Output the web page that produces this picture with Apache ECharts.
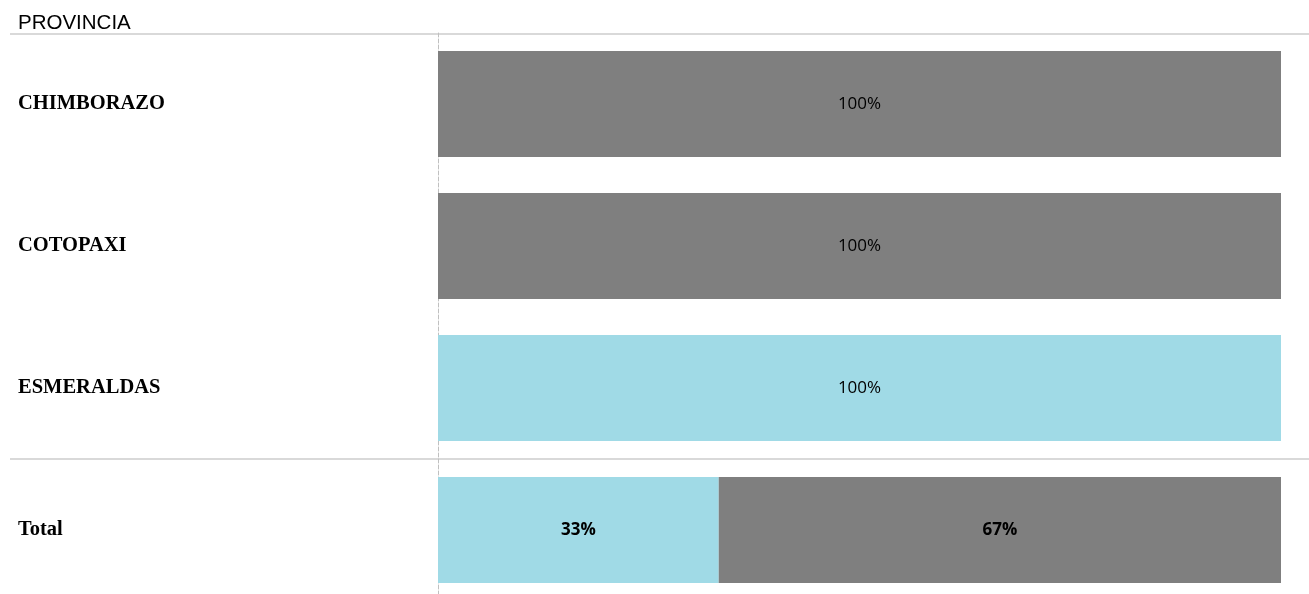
<!DOCTYPE html>
<html>
<head>
<meta charset="utf-8">
<script src="https://cdn.jsdelivr.net/npm/echarts@6/dist/echarts.min.js"></script>
<style>html,body{margin:0;padding:0;background:#fff}#c{width:1309px;height:594px}</style>
</head>
<body>
<div id="c"></div>
<script>
var categories = ['CHIMBORAZO', 'COTOPAXI', 'ESMERALDAS', 'Total'];
var seriesCyan = [0, 0, 1, 0.333];
var seriesGray = [1, 1, 0, 0.667];
var headerLabel = 'PROVINCIA';
var totalCategory = 'Total';

var chart = echarts.init(document.getElementById('c'));

function buildData(vals) {
  return vals.map(function (v, i) {
    var d = { value: v };
    if (categories[i] === totalCategory) {
      d.label = { fontWeight: 'bold' };
    }
    return d;
  });
}

var labelCfg = {
  show: true,
  position: 'inside',
  color: '#000',
  fontFamily: 'Open Sans',
  fontSize: 17,
  formatter: function (p) {
    return p.value > 0 ? Math.round(p.value * 100) + '%' : '';
  }
};

chart.setOption({
  animation: false,
  grid: { left: 438, right: 28, top: 33, height: 568, containLabel: false, outerBoundsMode: 'none' },
  xAxis: {
    type: 'value', min: 0, max: 1, show: false
  },
  yAxis: {
    type: 'category',
    inverse: true,
    data: categories,
    axisTick: { show: false },
    axisLine: { show: true, lineStyle: { color: '#c0c0c0', type: 'dashed', width: 1 } },
    axisLabel: {
      align: 'left',
      margin: 420,
      color: '#000',
      fontFamily: 'Liberation Serif',
      fontWeight: 'bold',
      fontSize: 20.5
    },
    splitLine: { show: false }
  },
  graphic: [
    { type: 'text', left: 18, top: 13, style: { text: headerLabel, fontFamily: 'Liberation Sans', fontSize: 20.5, fill: '#000' } },
    { type: 'line', shape: { x1: 10, y1: 34, x2: 1309, y2: 34 }, style: { stroke: '#d9d9d9', lineWidth: 2 } },
    { type: 'line', shape: { x1: 10, y1: 459, x2: 1309, y2: 459 }, style: { stroke: '#d9d9d9', lineWidth: 2 } }
  ],
  series: [
    { name: 'A', type: 'bar', stack: 's', barWidth: 106, data: buildData(seriesCyan), itemStyle: { color: '#a0dae6' }, label: labelCfg },
    { name: 'B', type: 'bar', stack: 's', barWidth: 106, data: buildData(seriesGray), itemStyle: { color: '#7f7f7f' }, label: labelCfg }
  ]
});
</script>
</body>
</html>
